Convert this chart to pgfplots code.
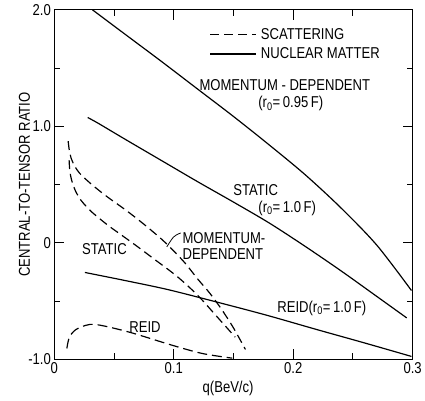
\documentclass[border=0pt]{standalone}
\usepackage{fontspec}
\setmainfont{Liberation Sans}[FakeStretch=0.83]
\usepackage{pgfplots}
\pgfplotsset{compat=1.18}

\pgfplotstableread{
x y
0.032 2.0
0.06 1.785
0.09 1.555
0.12 1.32
0.15 1.085
0.18 0.84
0.21 0.585
0.24 0.30
0.27 -0.02
0.299 -0.409
}\mdnm

\pgfplotstableread{
x y
0.028 1.076
0.037 1.025
0.06 0.885
0.09 0.705
0.12 0.525
0.15 0.35
0.18 0.17
0.21 -0.03
0.24 -0.24
0.27 -0.46
0.295 -0.644
}\stnm

\pgfplotstableread{
x y
0.0256 -0.254
0.06 -0.325
0.095 -0.401
0.136 -0.508
0.1777 -0.621
0.22 -0.745
0.26 -0.86
0.299 -0.975
}\reidnm

\pgfplotstableread{
x y
0.0116 0.873
0.0125 0.80
0.014 0.73
0.017 0.66
0.021 0.60
0.027 0.54
0.035 0.47
0.045 0.39
0.06 0.28
0.075 0.16
0.09 0.03
0.10 -0.07
0.11 -0.18
0.12 -0.31
0.13 -0.43
0.14 -0.57
0.15 -0.73
0.16 -0.915
}\mdsc

\pgfplotstableread{
x y
0.0124 0.71
0.0128 0.64
0.0135 0.585
0.015 0.52
0.018 0.44
0.022 0.37
0.027 0.31
0.033 0.25
0.045 0.15
0.055 0.076
0.068 -0.02
0.085 -0.15
0.103 -0.29
0.12 -0.45
0.135 -0.62
0.1515 -0.81
}\stsc

\pgfplotstableread{
x y
0.0105 -0.907
0.012 -0.83
0.0145 -0.78
0.018 -0.745
0.023 -0.72
0.030 -0.70
0.040 -0.71
0.064 -0.77
0.099 -0.88
0.124 -0.95
0.149 -0.99
}\reidsc

\begin{document}
\begin{tikzpicture}[font=\fontsize{16}{18}\selectfont]
\begin{axis}[
  scale only axis,
  width=363bp, height=354bp,
  xmin=0, xmax=0.3, ymin=-1, ymax=2,
  clip=false,
  axis line style={line width=1bp},
  tick style={line width=1bp, black},
  major tick length=10bp, minor tick length=6bp,
  tick align=inside,
  xtick={0,0.1,0.2,0.3}, xticklabels={0,0.1,0.2,0.3},
  minor xtick={0.05,0.15,0.25},
  ytick={-1,0,1,2}, yticklabels={-1.0,0,1.0,2.0},
  minor ytick={-0.5,0.5,1.5},
  /pgf/number format/assume math mode=true,
  xlabel={q(BeV/c)},
  ylabel={CENTRAL-TO-TENSOR RATIO},
  xlabel style={at={(axis description cs:0.485,-0.082)}, anchor=center},
  ylabel style={at={(axis description cs:-0.083,0.5)}, anchor=center},
  legend style={draw=none, fill=none, at={(axis cs:0.130,1.86)}, anchor=north west,
    inner sep=0pt, row sep=3bp, nodes={inner sep=2bp}},
  legend cell align=left,
  legend image code/.code={\draw[#1] (0bp,0bp) -- (46bp,0bp);},
]
\addlegendimage{black, line width=1.2bp, dash pattern=on 9bp off 5bp}
\addlegendentry{\,SCATTERING}
\addlegendimage{black, line width=1.2bp}
\addlegendentry{\,NUCLEAR MATTER}

\addplot[forget plot, black, line width=1.2bp, smooth] table {\mdnm};
\addplot[forget plot, black, line width=1.2bp, smooth] table {\stnm};
\addplot[forget plot, black, line width=1.2bp, smooth] table {\reidnm};
\addplot[forget plot, black, line width=1.2bp, smooth, dash pattern=on 9bp off 5bp] table {\mdsc};
\addplot[forget plot, black, line width=1.2bp, smooth, dash pattern=on 9bp off 5bp] table {\stsc};
\addplot[forget plot, black, line width=1.2bp, smooth, dash pattern=on 10bp off 5bp] table {\reidsc};

\node at (axis cs:0.193,1.356) {MOMENTUM - DEPENDENT};
\node at (axis cs:0.198,1.195) {(r\textsubscript{0}=\,0.95\,F)};
\node at (axis cs:0.1686,0.449) {STATIC};
\node at (axis cs:0.195,0.297) {(r\textsubscript{0}=\,1.0\,F)};
\node at (axis cs:0.224,-0.559) {REID(r\textsubscript{0}=\,1.0\,F)};
\node at (axis cs:0.042,-0.051) {STATIC};
\node[anchor=west] at (axis cs:0.1045,0.042) {MOMENTUM-};
\node[anchor=west] at (axis cs:0.1045,-0.093) {DEPENDENT};
\node at (axis cs:0.076,-0.72) {REID};
\draw[line width=0.8bp] (axis cs:0.1058,0.085) .. controls (axis cs:0.100,0.06) .. (axis cs:0.0942,-0.034);

\coordinate (ax0) at (rel axis cs:0,0);
\coordinate (ax1) at (rel axis cs:1,1);
\end{axis}
\path ([shift={(-55bp,-42bp)}]ax0) rectangle ([shift={(7bp,10bp)}]ax1);
\end{tikzpicture}
\end{document}
